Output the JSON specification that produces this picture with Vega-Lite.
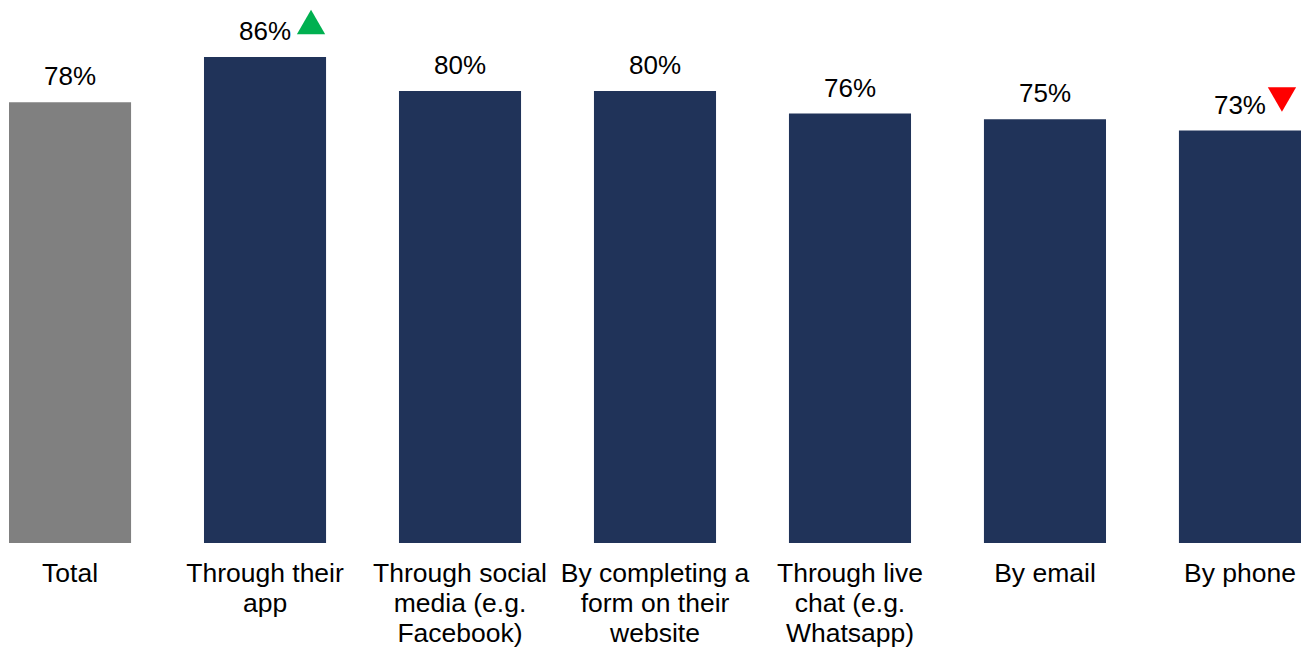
{
  "$schema": "https://vega.github.io/schema/vega-lite/v6.json",
  "width": 1292,
  "height": 543,
  "autosize": {"type": "none"},
  "padding": {"left": 9, "top": 0, "right": 4, "bottom": 108},
  "background": "white",
  "config": {"view": {"stroke": null}, "font": "Liberation Sans"},
  "data": {"values": [
    {"cat": "Total", "value": 0.78, "grp": "total", "sig": null},
    {"cat": "Through their|app", "value": 0.86, "grp": "item", "sig": "up"},
    {"cat": "Through social|media (e.g.|Facebook)", "value": 0.80, "grp": "item", "sig": null},
    {"cat": "By completing a|form on their|website", "value": 0.80, "grp": "item", "sig": null},
    {"cat": "Through live|chat (e.g.|Whatsapp)", "value": 0.76, "grp": "item", "sig": null},
    {"cat": "By email", "value": 0.75, "grp": "item", "sig": null},
    {"cat": "By phone", "value": 0.73, "grp": "item", "sig": "down"}
  ]},
  "encoding": {
    "x": {"field": "cat", "type": "nominal", "sort": null,
      "scale": {"paddingInner": 0.374, "paddingOuter": 0},
      "axis": {"title": null, "labelAngle": 0, "domain": false, "ticks": false,
        "labelFontSize": 26.5, "labelColor": "black", "labelPadding": 17, "labelLineHeight": 30,
        "labelBaseline": "top", "labelLimit": 300,
        "labelExpr": "split(datum.label, '|')"}},
    "y": {"field": "value", "type": "quantitative",
      "scale": {"domain": [0, 0.961], "nice": false, "zero": true},
      "axis": null}
  },
  "layer": [
    {"mark": {"type": "bar"},
     "encoding": {"color": {"field": "grp", "type": "nominal",
       "scale": {"domain": ["total", "item"], "range": ["#808080", "#203359"]}, "legend": null}}},
    {"mark": {"type": "text", "fontSize": 26, "baseline": "alphabetic", "dy": -17, "color": "black"},
     "encoding": {"text": {"field": "value", "type": "quantitative", "format": ".0%"}}},
    {"transform": [{"filter": "datum.sig == 'up'"}],
     "mark": {"type": "point", "filled": true, "opacity": 1, "size": 800, "xOffset": 46, "yOffset": -35, "shape": "triangle-up", "color": "#00B050"}},
    {"transform": [{"filter": "datum.sig == 'down'"}],
     "mark": {"type": "point", "filled": true, "opacity": 1, "size": 800, "xOffset": 42, "yOffset": -31, "shape": "triangle-down", "color": "#FF0000"}}
  ],
  "resolve": {"scale": {"color": "independent"}}
}
